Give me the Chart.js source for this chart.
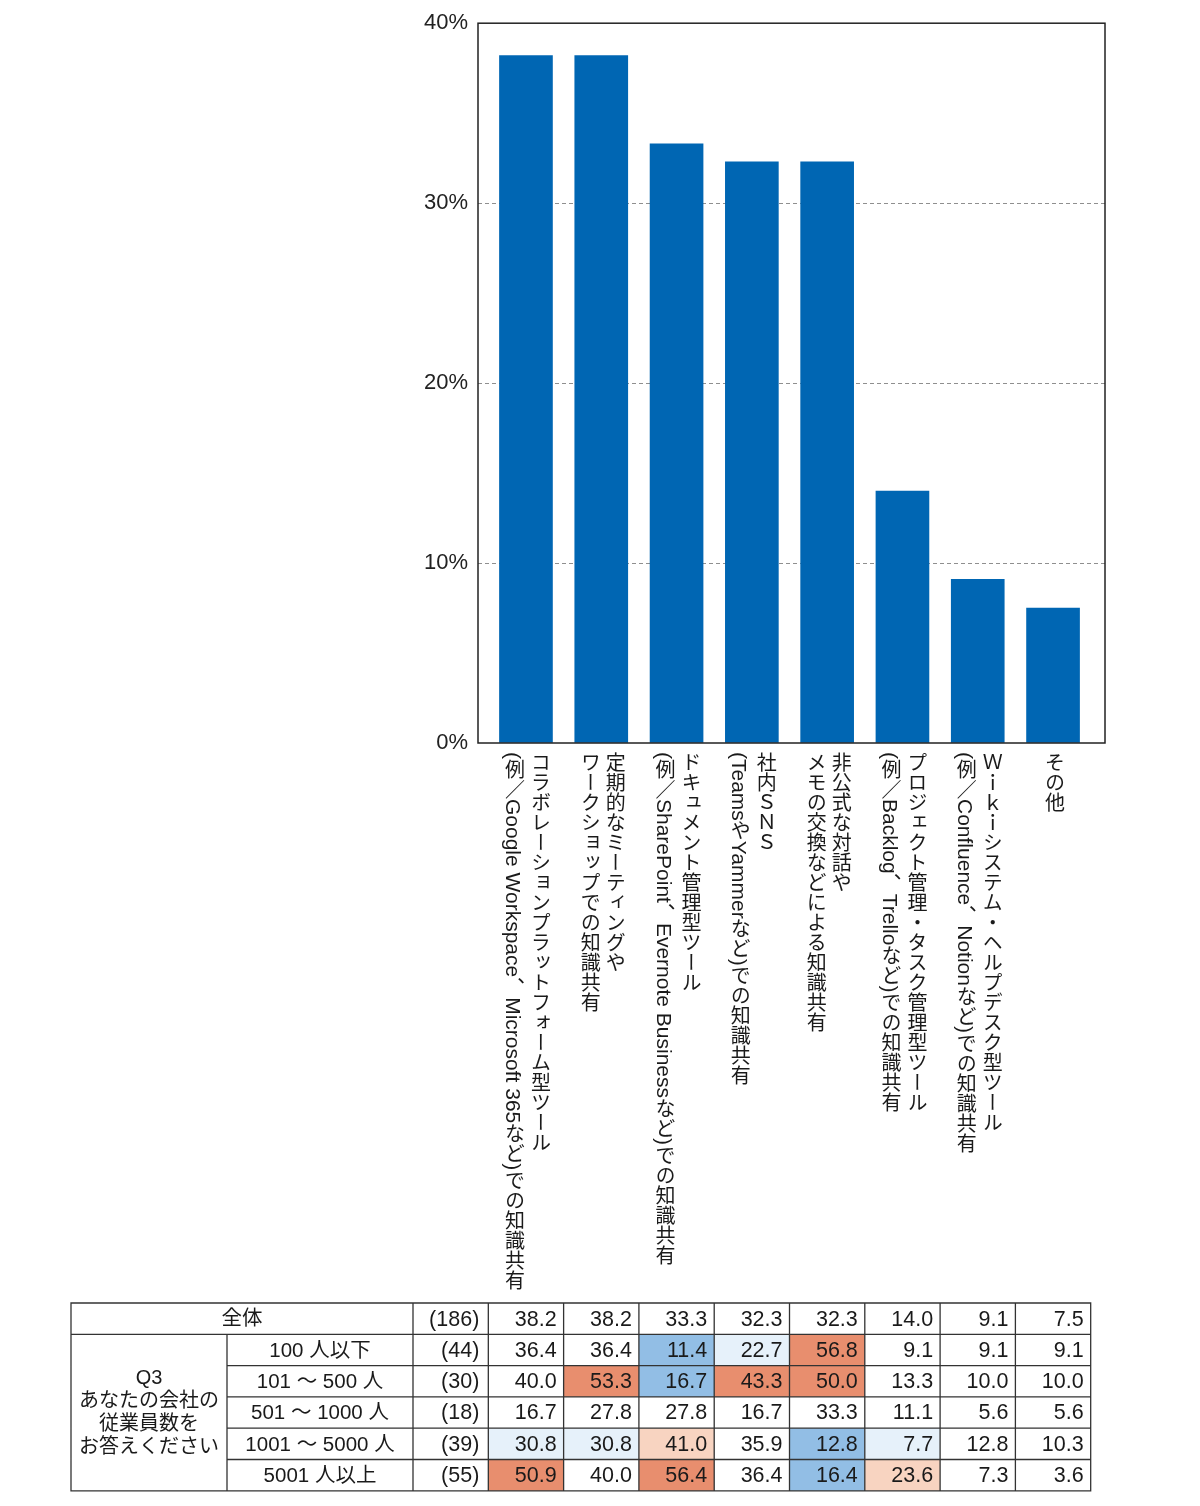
<!DOCTYPE html>
<html lang="ja">
<head>
<meta charset="utf-8">
<title>社内の知識共有の方法</title>
<script src="https://cdn.jsdelivr.net/npm/chart.js@4.4.1/dist/chart.umd.min.js"></script>
<style>
  html, body { margin: 0; padding: 0; background: #fff; }
  #wrap { position: relative; width: 1200px; height: 1506px; }
  #labels div {
    position: absolute;
    writing-mode: vertical-rl;
    text-orientation: mixed;
    font-family: "Liberation Sans", "Noto Sans CJK JP", sans-serif;
    font-size: 20px;
    line-height: 25px;
    color: #1a1a1a;
    white-space: pre;
    transform: translateX(-50%);
  }
  #labels .lat { font-size: 21px; }
</style>
</head>
<body>
<div id="wrap">
  <canvas id="chart" width="1200" height="1506"></canvas>
  <div id="labels"></div>
</div>
<script>
// Category labels, one entry per bar (each line is one printed column)
const categories = [
  ['コラボレーションプラットフォーム型ツール', '(例／Google Workspace、Microsoft 365など)での知識共有'],
  ['定期的なミーティングや', 'ワークショップでの知識共有'],
  ['ドキュメント管理型ツール', '(例／SharePoint、Evernote Businessなど)での知識共有'],
  ['社内ＳＮＳ', '(TeamsやYammerなど)での知識共有'],
  ['非公式な対話や', 'メモの交換などによる知識共有'],
  ['プロジェクト管理・タスク管理型ツール', '(例／Backlog、Trelloなど)での知識共有'],
  ['Ｗｉｋｉシステム・ヘルプデスク型ツール', '(例／Confluence、Notionなど)での知識共有'],
  ['その他']
];

// Overall result (bars + first table row)
const totalLabel = '全体';
const totalCount = 186;
const totalValues = [38.2, 38.2, 33.3, 32.3, 32.3, 14.0, 9.1, 7.5];

// Breakdown by company size (Q3)
const groupTitle = ['Q3', 'あなたの会社の', '従業員数を', 'お答えください'];
const groupLabels = ['100 人以下', '101 〜 500 人', '501 〜 1000 人', '1001 〜 5000 人', '5001 人以上'];
const groupCounts = [44, 30, 18, 39, 55];
const groupValues = [
  [36.4, 36.4, 11.4, 22.7, 56.8, 9.1, 9.1, 9.1],
  [40.0, 53.3, 16.7, 43.3, 50.0, 13.3, 10.0, 10.0],
  [16.7, 27.8, 27.8, 16.7, 33.3, 11.1, 5.6, 5.6],
  [30.8, 30.8, 41.0, 35.9, 12.8, 7.7, 12.8, 10.3],
  [50.9, 40.0, 56.4, 36.4, 16.4, 23.6, 7.3, 3.6]
];

// Y axis ticks (percent)
const yTicks = [0, 10, 20, 30, 40];

const FONT = '"Liberation Sans", "Noto Sans CJK JP", sans-serif';
const INK = '#1a1a1a';

// shading: groups with n>=30, +-10pt strong, +-5pt light
function cellColor(v, base, n) {
  if (n < 30) return null;
  const d = v - base;
  if (d >= 10) return '#e88e6e';
  if (d >= 5) return '#f8d4c1';
  if (d <= -10) return '#92bee5';
  if (d <= -5) return '#e6f1fa';
  return null;
}

// Frame around the plot
const framePlugin = {
  id: 'frame',
  afterDatasetsDraw(chart) {
    const { ctx, chartArea: a } = chart;
    ctx.save();
    ctx.strokeStyle = '#222';
    ctx.lineWidth = 1.5;
    ctx.strokeRect(a.left, a.top, a.right - a.left, a.bottom - a.top);
    ctx.restore();
  }
};

// Data table under the chart, columns follow the x scale
const tablePlugin = {
  id: 'dataTable',
  afterDraw(chart) {
    const ctx = chart.ctx;
    const xs = chart.scales.x;
    const top = 1303, rowH = 31.3;
    const colL = 71, colQ = 227, colN = 413;
    const colV = xs.getPixelForValue(-0.5);
    const right = xs.getPixelForValue(totalValues.length - 0.5);
    const nRows = groupLabels.length + 1;
    const bottom = top + rowH * nRows;
    const colEdge = i => xs.getPixelForValue(i - 0.5);

    ctx.save();
    // shaded cells
    groupValues.forEach((row, r) => {
      row.forEach((v, c) => {
        const col = cellColor(v, totalValues[c], groupCounts[r]);
        if (col) {
          ctx.fillStyle = col;
          ctx.fillRect(colEdge(c), top + rowH * (r + 1), colEdge(c + 1) - colEdge(c), rowH);
        }
      });
    });

    // grid lines
    ctx.strokeStyle = '#333';
    ctx.lineWidth = 1.3;
    ctx.beginPath();
    ctx.rect(colL, top, right - colL, bottom - top);
    for (let r = 1; r < nRows; r++) {
      const y = top + rowH * r;
      ctx.moveTo(r === 1 ? colL : colQ, y);
      ctx.lineTo(right, y);
    }
    ctx.moveTo(colQ, top + rowH); ctx.lineTo(colQ, bottom);
    ctx.moveTo(colN, top); ctx.lineTo(colN, bottom);
    for (let c = 0; c < totalValues.length; c++) {
      ctx.moveTo(colEdge(c), top); ctx.lineTo(colEdge(c), bottom);
    }
    ctx.stroke();

    // text
    ctx.fillStyle = INK;
    ctx.textBaseline = 'middle';
    const mid = r => top + rowH * r + rowH / 2 + 1;

    ctx.font = '20.5px ' + FONT;
    ctx.textAlign = 'center';
    ctx.fillText(totalLabel, (colL + colN) / 2, mid(0));
    groupLabels.forEach((t, r) => ctx.fillText(t, (colQ + colN) / 2, mid(r + 1)));
    ctx.font = '20px ' + FONT;
    const qMid = top + rowH + (bottom - top - rowH) / 2;
    groupTitle.forEach((t, i) => {
      ctx.fillText(t, (colL + colQ) / 2, qMid + (i - (groupTitle.length - 1) / 2) * 23);
    });

    ctx.font = '21.5px ' + FONT;
    ctx.textAlign = 'right';
    ctx.fillText('(' + totalCount + ')', colV - 9, mid(0));
    groupCounts.forEach((n, r) => ctx.fillText('(' + n + ')', colV - 9, mid(r + 1)));
    totalValues.forEach((v, c) => ctx.fillText(v.toFixed(1), colEdge(c + 1) - 7, mid(0)));
    groupValues.forEach((row, r) => {
      row.forEach((v, c) => ctx.fillText(v.toFixed(1), colEdge(c + 1) - 7, mid(r + 1)));
    });
    ctx.restore();
  }
};

const chart = new Chart(document.getElementById('chart'), {
  type: 'bar',
  data: {
    datasets: [{
      data: totalValues.map((v, i) => ({ x: i, y: v })),
      backgroundColor: '#0066b3',
      borderWidth: 0,
      barThickness: 53
    }]
  },
  options: {
    responsive: false,
    animation: false,
    events: [],
    layout: { padding: { left: 0, top: 23, right: 95, bottom: 763 } },
    plugins: { legend: { display: false }, tooltip: { enabled: false } },
    scales: {
      x: {
        type: 'linear',
        offset: false,
        min: -0.637,
        max: 7.69,
        display: false
      },
      y: {
        min: yTicks[0],
        max: yTicks[yTicks.length - 1],
        afterBuildTicks: s => { s.ticks = yTicks.map(v => ({ value: v })); },
        afterFit: s => { s.width = 478; },
        ticks: {
          padding: 10,
          color: '#222',
          font: { family: FONT, size: 22 },
          callback: v => v + '%'
        },
        grid: {
          drawTicks: false,
          lineWidth: 1,
          color: c => (c.tick && c.tick.value > 0 && c.tick.value < 40) ? '#8f8f8f' : 'rgba(0,0,0,0)'
        },
        border: { display: false, dash: [4, 3] }
      }
    }
  },
  plugins: [framePlugin, tablePlugin]
});

// vertical (tategaki) category labels under each bar
const xs = chart.scales.x;
const labelBox = document.getElementById('labels');
const esc = s => s.replace(/&/g, '&amp;').replace(/</g, '&lt;');
categories.forEach((lines, i) => {
  const d = document.createElement('div');
  d.innerHTML = lines
    .map(l => esc(l).replace(/[A-Za-z0-9() ]+/g, m => '<span class="lat">' + m + '</span>'))
    .join('<br>');
  d.style.left = xs.getPixelForValue(i) + 'px';
  d.style.top = (chart.chartArea.bottom + 9) + 'px';
  labelBox.appendChild(d);
});
</script>
</body>
</html>
